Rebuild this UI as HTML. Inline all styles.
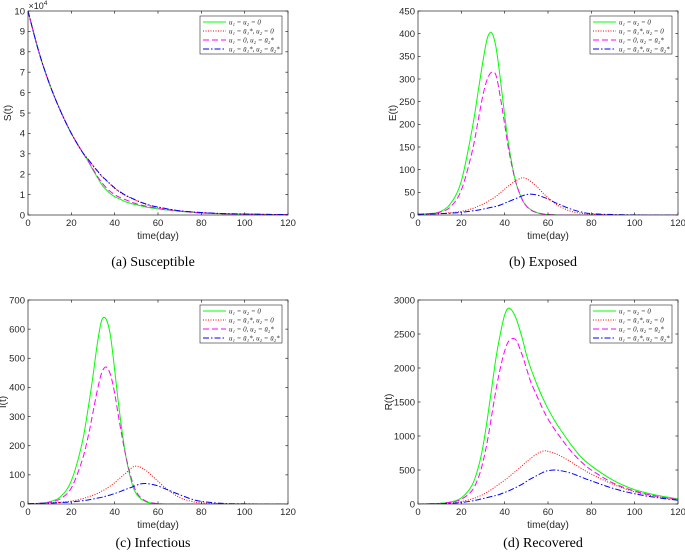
<!DOCTYPE html>
<html><head><meta charset="utf-8"><style>
html,body{margin:0;padding:0;background:#fff;}
svg{display:block;}
</style></head><body>
<svg id="fig" width="685" height="559" viewBox="0 0 685 559" xmlns="http://www.w3.org/2000/svg"></svg>
<script>
const tDays = [0,5,10,15,20,25,28,30,32,34,36,38,40,42,45,48,50,52,55,58,60,63,65,70,75,80,90,100,110,120];
// Panel (a) S(t) in units of 1e4
const sGreen = [10,8.0,6.4,5.1,4.0,3.1,2.6,2.2,1.85,1.5,1.25,1.05,0.9,0.8,0.65,0.55,0.5,0.45,0.38,0.33,0.3,0.26,0.24,0.18,0.14,0.1,0.06,0.04,0.03,0.02];
const sRed = [10,8.0,6.4,5.1,4.0,3.1,2.7,2.4,2.15,1.9,1.7,1.5,1.3,1.15,0.95,0.8,0.7,0.62,0.5,0.42,0.38,0.32,0.28,0.2,0.16,0.12,0.07,0.05,0.03,0.02];
const sMagenta = [10,8.0,6.4,5.1,4.0,3.1,2.6,2.25,1.9,1.6,1.35,1.15,1.0,0.88,0.75,0.62,0.55,0.49,0.42,0.36,0.32,0.27,0.25,0.19,0.14,0.1,0.06,0.04,0.03,0.02];
const sBlue = [10,8.0,6.4,5.1,4.0,3.1,2.7,2.42,2.17,1.92,1.72,1.52,1.33,1.17,0.97,0.82,0.72,0.63,0.52,0.43,0.39,0.33,0.29,0.21,0.16,0.12,0.07,0.05,0.03,0.02];
// Panel (b) E(t)
const eGreen = [2,3,7,25,75,190,280,340,390,402,370,300,220,150,75,35,20,12,5,2,1,0.5,0,0,0,0,0,0,0,0];
const eRed = [2,2,3,5,8,14,20,24,29,35,41,49,57,65,75,82,80,74,62,47,38,27,20,9,4,2,0.5,0,0,0];
const eMagenta = [2,3,6,18,55,140,215,265,300,315,308,260,200,140,75,35,20,11,5,2,1,0.5,0,0,0,0,0,0,0,0];
const eBlue = [1,2,3,4,6,9,11,13,15,17,19,22,26,30,36,42,45,46,44,39,35,28,24,14,7,3,1,0.3,0,0];
// Panel (c) I(t)
const iGreen = [1,2,8,25,80,210,340,440,550,630,635,580,460,330,170,70,35,18,6,2,1,0,0,0,0,0,0,0,0,0];
const iRed = [1,2,4,6,10,18,25,30,36,44,52,62,73,86,105,125,130,126,112,92,78,58,46,22,10,4,1,0.3,0,0];
const iMagenta = [1,2,6,18,55,150,240,315,390,450,470,445,380,290,170,80,42,22,8,3,1,0,0,0,0,0,0,0,0,0];
const iBlue = [1,2,3,5,7,11,14,17,20,23,27,31,36,41,50,58,64,69,70,66,62,53,47,32,18,9,2,0.5,0,0];
// Panel (d) R(t)
const rGreen = [0,3,10,30,90,280,560,850,1250,1700,2150,2500,2780,2880,2750,2450,2200,2000,1750,1530,1400,1230,1130,900,700,560,350,210,130,75];
const rRed = [0,2,6,15,35,75,110,140,175,215,260,305,350,400,480,560,620,670,740,780,775,745,720,630,530,440,290,180,110,60];
const rMagenta = [0,2,8,25,70,200,400,620,920,1300,1680,2000,2250,2400,2420,2200,2000,1800,1580,1370,1250,1100,1010,800,630,500,310,190,115,65];
const rBlue = [0,1,4,10,22,45,65,80,95,110,125,145,170,195,240,290,330,370,420,470,490,500,495,460,400,340,230,150,95,55];

const xTicks = [0,20,40,60,80,100,120];
const sTicks = [0,1,2,3,4,5,6,7,8,9,10];
const eTicks = [0,50,100,150,200,250,300,350,400,450];
const iTicks = [0,100,200,300,400,500,600,700];
const rTicks = [0,500,1000,1500,2000,2500,3000];
const legendLabels = ["u\u2081 = u\u2082 = 0","u\u2081 = \u016b\u2081*, u\u2082 = 0","u\u2081 = 0, u\u2082 = \u016b\u2082*","u\u2081 = \u016b\u2081*, u\u2082 = \u016b\u2082*"];

const NS = "http://www.w3.org/2000/svg";
const fig = document.getElementById('fig');
function mk(tag, attrs, parent){const e=document.createElementNS(NS,tag);for(const k in attrs)e.setAttribute(k,attrs[k]);(parent||fig).appendChild(e);return e;}

const styles = [
 {color:'#00ff00', dash:'', w:1.0},
 {color:'#ff0000', dash:'1,1.5', w:1.0},
 {color:'#ff00ff', dash:'6,3', w:1.0},
 {color:'#0000ff', dash:'6,2,1.5,2', w:1.0}
];

function smoothPath(pts){
  let d = 'M'+pts[0][0].toFixed(2)+','+pts[0][1].toFixed(2);
  for(let i=0;i<pts.length-1;i++){
    const p0=pts[Math.max(0,i-1)],p1=pts[i],p2=pts[i+1],p3=pts[Math.min(pts.length-1,i+2)];
    const c1=[p1[0]+(p2[0]-p0[0])/6,p1[1]+(p2[1]-p0[1])/6];
    const c2=[p2[0]-(p3[0]-p1[0])/6,p2[1]-(p3[1]-p1[1])/6];
    d+=' C'+c1[0].toFixed(2)+','+c1[1].toFixed(2)+' '+c2[0].toFixed(2)+','+c2[1].toFixed(2)+' '+p2[0].toFixed(2)+','+p2[1].toFixed(2);
  }
  return d;
}

function panel(opt){
  const g = mk('g',{});
  
  
  const {x0,x1,y0,y1,ymax,yTicks,series,ylabel,caption,id} = opt;
  const xs = v => x0 + (v/120)*(x1-x0);
  const ys = v => y1 - (v/ymax)*(y1-y0);
  mk('rect',{x:x0,y:y0,width:x1-x0,height:y1-y0,fill:'#fff'},g);
  const clip = mk('clipPath',{id:'clip'+id},g);
  mk('rect',{x:x0,y:y0,width:x1-x0,height:y1-y0},clip);
  [0,1,2,3].forEach(k=>{
    const pts = tDays.map((t,i)=>[xs(t),ys(series[k][i])]);
    const p = mk('path',{d:smoothPath(pts),fill:'none',stroke:styles[k].color,'stroke-width':styles[k].w,'stroke-dasharray':styles[k].dash,'clip-path':'url(#clip'+id+')'},g);
    
    
  });
  mk('rect',{x:x0,y:y0,width:x1-x0,height:y1-y0,fill:'none',stroke:'#262626','stroke-width':0.7},g);
  xTicks.forEach(v=>{
    const x=xs(v);
    mk('line',{x1:x,x2:x,y1:y1,y2:y1-2.6,stroke:'#262626','stroke-width':0.7},g);
    mk('line',{x1:x,x2:x,y1:y0,y2:y0+2.6,stroke:'#262626','stroke-width':0.7},g);
    const t=mk('text',{x:x,y:y1+11,'font-size':9.5,'text-anchor':'middle','font-family':'Liberation Sans, sans-serif',fill:'#262626'},g);
    t.textContent=v;
    
    
  });
  yTicks.forEach(v=>{
    const y=ys(v);
    mk('line',{x1:x0,x2:x0+2.6,y1:y,y2:y,stroke:'#262626','stroke-width':0.7},g);
    mk('line',{x1:x1,x2:x1-2.6,y1:y,y2:y,stroke:'#262626','stroke-width':0.7},g);
    const t=mk('text',{x:x0-3,y:y+3.3,'font-size':9.5,'text-anchor':'end','font-family':'Liberation Sans, sans-serif',fill:'#262626'},g);
    t.textContent=v;
    
    
  });
  const xl=mk('text',{x:(x0+x1)/2,y:y1+24,'font-size':10,'text-anchor':'middle','font-family':'Liberation Sans, sans-serif',fill:'#262626'},g);
  xl.textContent='time(day)';
  
  
  const ylx = opt.ylx;
  const yl=mk('text',{x:ylx,y:(y0+y1)/2,'font-size':10,'text-anchor':'middle','font-family':'Liberation Sans, sans-serif',fill:'#262626',transform:'rotate(-90 '+ylx+' '+(y0+y1)/2+')'},g);
  yl.textContent=ylabel;
  
  
  if(opt.exp){
    const e=mk('text',{x:x0+0.5,y:y0-2,'font-size':9,'font-family':'Liberation Sans, sans-serif',fill:'#262626'},g);
    e.textContent='\u00d710';
    const s=mk('tspan',{dy:-4,'font-size':6.5},e); s.textContent='4';
    
    
  }
  const lx=x1-88, ly=y0+5, lw=82, lh=38;
  const lg=mk('g',{},g);
  
  
  mk('rect',{x:lx,y:ly,width:lw,height:lh,fill:'#fff',stroke:'#262626','stroke-width':0.6},lg);
  legendLabels.forEach((lab,k)=>{
    const yy=ly+6+k*9;
    mk('line',{x1:lx+3,x2:lx+26,y1:yy,y2:yy,stroke:styles[k].color,'stroke-width':1.1,'stroke-dasharray':styles[k].dash},lg);
    const t=mk('text',{x:lx+29,y:yy+2.5,'font-size':7,'font-family':'Liberation Serif, serif','font-style':'italic',fill:'#262626'},lg);
    t.textContent=lab;
    
    
  });
  const c=mk('text',{x:(x0+x1)/2-5,y:opt.capY,'font-size':14,'text-anchor':'middle','font-family':'Liberation Serif, serif',fill:'#000'},g);
  c.textContent=caption;
  
  
}

panel({id:'a',name:'susceptible-panel',x0:28,x1:288,y0:11,y1:215,ymax:10,yTicks:sTicks,series:[sGreen,sRed,sMagenta,sBlue],ylabel:'S(t)',ylx:11,caption:'(a)  Susceptible',capY:266,exp:true});
panel({id:'b',name:'exposed-panel',x0:418,x1:678,y0:11,y1:215,ymax:450,yTicks:eTicks,series:[eGreen,eRed,eMagenta,eBlue],ylabel:'E(t)',ylx:396,caption:'(b)  Exposed',capY:266});
panel({id:'c',name:'infectious-panel',x0:28,x1:288,y0:300,y1:504,ymax:700,yTicks:iTicks,series:[iGreen,iRed,iMagenta,iBlue],ylabel:'I(t)',ylx:6,caption:'(c)  Infectious',capY:547});
panel({id:'d',name:'recovered-panel',x0:418,x1:678,y0:300,y1:504,ymax:3000,yTicks:rTicks,series:[rGreen,rRed,rMagenta,rBlue],ylabel:'R(t)',ylx:392,caption:'(d)  Recovered',capY:547});
</script>
</body></html>
